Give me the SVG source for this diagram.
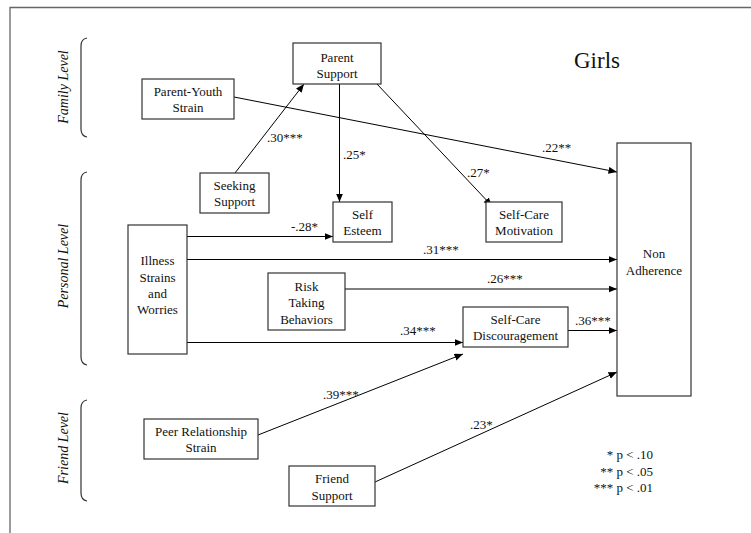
<svg xmlns="http://www.w3.org/2000/svg" width="751" height="533" viewBox="0 0 751 533" font-family="'Liberation Serif', 'Times New Roman', serif">
<defs>
<marker id="ah" markerUnits="userSpaceOnUse" markerWidth="9" markerHeight="8" refX="8.5" refY="3.5" orient="auto">
<path d="M0,0 L8.5,3.5 L0,7 z" fill="#000"/>
</marker>
<style>
text{font-size:13px;fill:#111}
.nd rect{fill:#fff;stroke:#333;stroke-width:1.2}
.nd text{text-anchor:middle}
.cn line{stroke:#000;stroke-width:1;marker-end:url(#ah)}
.lv{font-style:italic;font-size:14px;text-anchor:middle}
.br{fill:none;stroke:#333;stroke-width:1.2}
.lg{text-anchor:end}
</style>
</defs>
<rect width="751" height="533" fill="#fff"/>
<path d="M10,533 L10,7.5 L751,7.5" fill="none" stroke="#666" stroke-width="1.3"/>

<g id="levels">
<path class="br" d="M87,38 Q81,39 81,46 L81,129 Q81,136 87,137"/>
<text class="lv" transform="translate(68,87) rotate(-90)">Family Level</text>
<path class="br" d="M87,172 Q81,173 81,180 L81,357 Q81,364 87,365"/>
<text class="lv" transform="translate(68,266) rotate(-90)">Personal Level</text>
<path class="br" d="M87,400 Q81,401 81,408 L81,493 Q81,500 87,501"/>
<text class="lv" transform="translate(68,448) rotate(-90)">Friend Level</text>
</g>

<text x="597" y="68" style="font-size:23px;text-anchor:middle">Girls</text>

<g id="connectors" class="cn">
<line x1="235" y1="173" x2="304" y2="84"/>
<line x1="339.5" y1="84" x2="339.5" y2="202"/>
<line x1="377" y1="84" x2="492" y2="206"/>
<line x1="234" y1="97" x2="617" y2="172"/>
<line x1="187" y1="236.5" x2="333" y2="236.5"/>
<line x1="187" y1="259.5" x2="617" y2="259.5"/>
<line x1="345" y1="289" x2="617" y2="289"/>
<line x1="187" y1="342.5" x2="463" y2="342.5"/>
<line x1="568" y1="330.5" x2="617" y2="330.5"/>
<line x1="258" y1="435" x2="463" y2="354"/>
<line x1="375" y1="482" x2="617" y2="372"/>
</g>

<g id="edge-labels">
<text x="267" y="141.5">.30***</text>
<text x="343" y="159">.25*</text>
<text x="467" y="177">.27*</text>
<text x="542" y="152">.22**</text>
<text x="291" y="230.5">-.28*</text>
<text x="423" y="254">.31***</text>
<text x="487" y="283">.26***</text>
<text x="400" y="334.5">.34***</text>
<text x="575" y="324.5">.36***</text>
<text x="323" y="398.5">.39***</text>
<text x="470" y="428.5">.23*</text>
</g>

<g id="parent-support" class="nd"><rect x="293" y="43" width="88" height="41"/><text x="337" y="61.5">Parent</text><text x="337" y="77.5">Support</text></g>
<g id="parent-youth-strain" class="nd"><rect x="142" y="79" width="92" height="40"/><text x="188" y="96">Parent-Youth</text><text x="188" y="112">Strain</text></g>
<g id="seeking-support" class="nd"><rect x="200" y="173" width="69" height="40"/><text x="234.5" y="190">Seeking</text><text x="234.5" y="206">Support</text></g>
<g id="self-esteem" class="nd"><rect x="333" y="202" width="59" height="40"/><text x="362.5" y="218.5">Self</text><text x="362.5" y="234.5">Esteem</text></g>
<g id="self-care-motivation" class="nd"><rect x="486" y="202" width="76" height="40"/><text x="524" y="219">Self-Care</text><text x="524" y="235">Motivation</text></g>
<g id="illness" class="nd"><rect x="128" y="225" width="59" height="129"/><text x="157.5" y="265">Illness</text><text x="157.5" y="281.5">Strains</text><text x="157.5" y="298">and</text><text x="157.5" y="314">Worries</text></g>
<g id="risk" class="nd"><rect x="268" y="273" width="77" height="57"/><text x="306.5" y="291">Risk</text><text x="306.5" y="307">Taking</text><text x="306.5" y="323.5">Behaviors</text></g>
<g id="non-adherence" class="nd"><rect x="617" y="143" width="74" height="253"/><text x="654" y="258">Non</text><text x="654" y="275">Adherence</text></g>
<g id="self-care-discouragement" class="nd"><rect x="463" y="307" width="105" height="40"/><text x="515.5" y="323.5">Self-Care</text><text x="515.5" y="340">Discouragement</text></g>
<g id="peer-relationship-strain" class="nd"><rect x="144" y="419" width="114" height="40"/><text x="201" y="436">Peer Relationship</text><text x="201" y="452">Strain</text></g>
<g id="friend-support" class="nd"><rect x="289" y="466" width="86" height="40"/><text x="332" y="483">Friend</text><text x="332" y="499.5">Support</text></g>

<g id="legend">
<text class="lg" x="653" y="459">* p &lt; .10</text>
<text class="lg" x="653" y="476">** p &lt; .05</text>
<text class="lg" x="653" y="492">*** p &lt; .01</text>
</g>
</svg>
